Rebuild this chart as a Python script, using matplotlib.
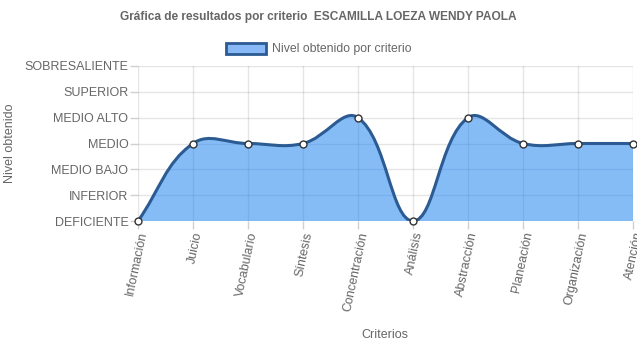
import numpy as np
import matplotlib.pyplot as plt
from matplotlib.path import Path
from matplotlib.patches import PathPatch, Patch

criterios = ['Información', 'Juicio', 'Vocabulario', 'Síntesis', 'Concentración',
             'Análisis', 'Abstracción', 'Planeación', 'Organización', 'Atención']
niveles = ['DEFICIENTE', 'INFERIOR', 'MEDIO BAJO', 'MEDIO', 'MEDIO ALTO',
           'SUPERIOR', 'SOBRESALIENTE']
valores = [0, 3, 3, 3, 4, 0, 4, 3, 3, 3]

fill_col = (0.13, 0.52, 0.94, 0.55)
line_col = '#2b5b92'
txt = '#666666'

plt.rcParams['font.family'] = ['Liberation Sans', 'DejaVu Sans']

fig = plt.figure(figsize=(6.37, 3.48), dpi=100)
ax = fig.add_axes([138 / 637, 1 - 221 / 348, 495 / 637, 155 / 348])
x = np.arange(len(criterios))
ax.set_xlim(0, len(criterios) - 1)
ax.set_ylim(0, len(niveles) - 1)

# spline like chart.js (tension 0.4), computed in pixel space
pts = ax.transData.transform(np.column_stack([x, valores]))
t = 0.4
ctrl_prev, ctrl_next = [], []
for i in range(len(pts)):
    p0 = pts[i - 1] if i > 0 else pts[i]
    p1 = pts[i]
    p2 = pts[i + 1] if i < len(pts) - 1 else pts[i]
    d01 = np.hypot(*(p1 - p0))
    d12 = np.hypot(*(p2 - p1))
    s = d01 + d12
    s01 = d01 / s if s else 0
    s12 = d12 / s if s else 0
    ctrl_prev.append(p1 - t * s01 * (p2 - p0))
    ctrl_next.append(p1 + t * s12 * (p2 - p0))
bbox = ax.get_window_extent()
verts = [pts[0]]
codes = [Path.MOVETO]
for i in range(len(pts) - 1):
    c1 = ctrl_next[i].copy()
    c2 = ctrl_prev[i + 1].copy()
    for c in (c1, c2):
        c[1] = min(max(c[1], bbox.y0), bbox.y1)
    verts += [c1, c2, pts[i + 1]]
    codes += [Path.CURVE4] * 3
verts = ax.transData.inverted().transform(np.array(verts))

fill_verts = list(verts) + [(x[-1], 0), (x[0], 0), verts[0]]
fill_codes = codes + [Path.LINETO, Path.LINETO, Path.CLOSEPOLY]
ax.add_patch(PathPatch(Path(fill_verts, fill_codes), fc=fill_col, ec='none', zorder=2))
ax.add_patch(PathPatch(Path(verts, codes), fc='none', ec=line_col, lw=2.2, zorder=3))
ax.plot(x, valores, 'o', ms=5, mfc='white', mec='#333333', mew=1, zorder=4, clip_on=False)

ax.set_yticks(range(len(niveles)))
ax.set_yticklabels(niveles, fontsize=9, color=txt)
ax.set_xticks(x)
ax.set_xticklabels(criterios, fontsize=9, color=txt, rotation=78, ha='right',
                   rotation_mode='anchor')
ax.tick_params(axis='both', length=6, color='#d0d0d0', width=1, pad=1)
ax.grid(True, color='#000000', alpha=0.1, lw=1, zorder=1)
for s in ax.spines.values():
    s.set_visible(False)
ax.set_axisbelow(True)

fig.text(10 / 637, 1 - 143 / 348, 'Nivel obtenido', rotation=90, ha='center', va='center',
         fontsize=9, color=txt)
ax.set_xlabel('Criterios', fontsize=9, color=txt)
ax.xaxis.set_label_coords((385 - 138) / 495, -(329 - 221) / 155)

fig.text(0.5, 1 - 17 / 348, 'Gráfica de resultados por criterio  ESCAMILLA LOEZA WENDY PAOLA',
         ha='center', va='center', fontsize=8.6, fontweight='bold', color=txt)
handle = Patch(facecolor='#88b8f5', edgecolor=line_col, lw=2)
fig.legend([handle], ['Nivel obtenido por criterio'], loc='center',
           bbox_to_anchor=(0.5, 1 - 49 / 348), frameon=False, fontsize=8.8,
           labelcolor=txt, handlelength=3.3, handleheight=1.0, handletextpad=0.5)

fig.savefig('out.png', dpi=100)
